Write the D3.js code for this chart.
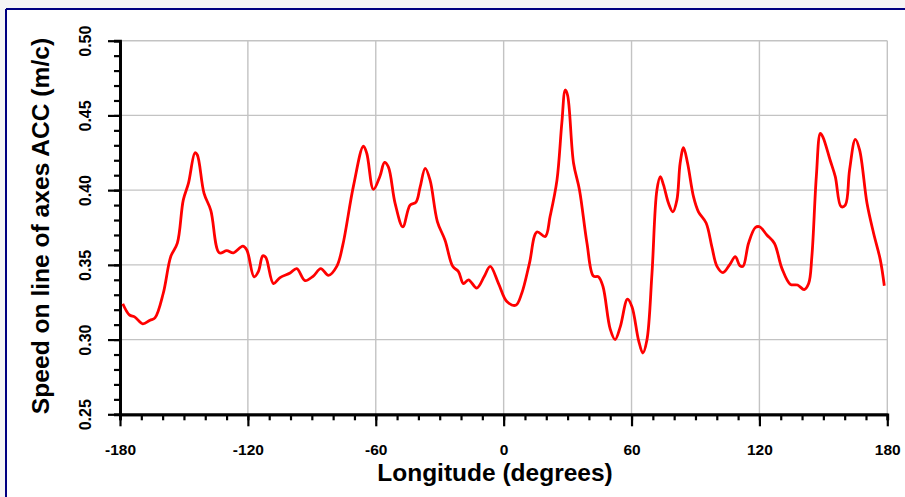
<!DOCTYPE html>
<html>
<head>
<meta charset="utf-8">
<script src="https://cdn.jsdelivr.net/npm/d3@7"></script>
<style>
  html, body { margin: 0; padding: 0; background: #fff; }
  svg { display: block; }
  text { font-family: "Liberation Sans", Arial, sans-serif; font-weight: bold; fill: #000; }
</style>
</head>
<body>
<svg id="chart" width="905" height="497"></svg>
<script>
// Longitude (degrees) of each sample along the ACC
const longitude = [
  -178.7, -175.6, -173.0, -169.3, -165.9, -163.6, -159.7, -156.2, -153.1, -150.3,
  -147.9, -144.8, -143.7, -140.6, -137.4, -133.4, -129.9, -126.8, -122.4, -120.5,
  -117.1, -115.1, -113.0, -111.6, -108.0, -104.9, -100.2, -97.1, -93.2, -89.3,
  -85.8, -82.2, -78.3, -75.5, -70.5, -65.8, -64.2, -61.1, -58.0, -55.9,
  -54.1, -50.9, -47.3, -43.9, -41.1, -39.2, -36.8, -34.5, -31.1, -27.5,
  -23.9, -21.2, -18.9, -16.5, -12.6, -9.2, -6.3, -2.4, 1.5, 5.7,
  8.5, 12.1, 15.6, 19.5, 21.8, 25.0, 27.3, 28.9, 30.0, 32.8,
  35.6, 39.1, 42.1, 44.5, 46.6, 50.0, 52.3, 54.7, 58.1, 60.2,
  63.3, 65.3, 67.2, 69.6, 71.9, 73.5, 75.0, 77.4, 79.4, 81.3,
  82.8, 84.4, 86.3, 89.1, 91.4, 95.0, 97.7, 100.1, 102.9, 106.0,
  108.7, 110.8, 112.3, 114.9, 118.1, 120.1, 123.5, 127.0, 130.6, 134.5,
  137.9, 141.0, 143.1, 144.6, 146.7, 148.6, 149.8, 153.2, 155.6, 158.3,
  160.3, 162.3, 165.0, 167.0, 170.5, 173.6, 176.7, 178.6
];

// Speed on the line of axes of the ACC (m/c)
const speed = [
  0.3240, 0.3165, 0.3150, 0.3105, 0.3130, 0.3145, 0.3310, 0.3555, 0.3645, 0.3935,
  0.4045, 0.4250, 0.4235, 0.3980, 0.3865, 0.3580, 0.3595, 0.3580, 0.3625, 0.3600,
  0.3420, 0.3455, 0.3560, 0.3550, 0.3375, 0.3415, 0.3445, 0.3475, 0.3395, 0.3425,
  0.3475, 0.3430, 0.3490, 0.3630, 0.4025, 0.4295, 0.4245, 0.4005, 0.4095, 0.4185,
  0.4155, 0.3910, 0.3755, 0.3900, 0.3920, 0.4020, 0.4145, 0.4065, 0.3790, 0.3665,
  0.3490, 0.3455, 0.3375, 0.3400, 0.3345, 0.3420, 0.3490, 0.3375, 0.3255, 0.3230,
  0.3310, 0.3510, 0.3720, 0.3690, 0.3825, 0.4065, 0.4450, 0.4670, 0.4635, 0.4180,
  0.4000, 0.3645, 0.3425, 0.3420, 0.3355, 0.3070, 0.3000, 0.3085, 0.3270, 0.3220,
  0.2995, 0.2910, 0.2995, 0.3445, 0.4000, 0.4090, 0.4035, 0.3910, 0.3855, 0.3935,
  0.4180, 0.4285, 0.4180, 0.3955, 0.3855, 0.3780, 0.3620, 0.3490, 0.3448, 0.3500,
  0.3555, 0.3495, 0.3490, 0.3645, 0.3750, 0.3755, 0.3700, 0.3645, 0.3475, 0.3370,
  0.3365, 0.3335, 0.3375, 0.3555, 0.4090, 0.4380, 0.4355, 0.4200, 0.4090, 0.3890,
  0.3900, 0.4135, 0.4340, 0.4270, 0.3910, 0.3710, 0.3535, 0.3360
];

// Axis ticks
const xMajorTicks = [-180, -120, -60, 0, 60, 120, 180];
const xMinorTicks = d3.range(-180, 181, 10);
const yMajorTicks = [0.25, 0.30, 0.35, 0.40, 0.45, 0.50];
const yMinorTicks = d3.range(25, 51, 1).map(v => v / 100);
const yTickLabels = ["0.25", "0.30", "0.35", "0.40", "0.45", "0.50"];

const xTitle = "Longitude (degrees)";
const yTitle = "Speed on line of axes ACC (m/c)";

const svg = d3.select("#chart");
const W = 905, H = 497;
const plot = { left: 120, right: 887.3, top: 40.7, bottom: 414.3 };

const x = d3.scaleLinear().domain([-180, 180]).range([plot.left, plot.right]);
const y = d3.scaleLinear().domain([0.25, 0.50]).range([plot.bottom, plot.top]);

// Page background and frame
svg.append("rect").attr("width", W).attr("height", H).attr("fill", "#f5f5f5");
svg.append("rect").attr("x", 6).attr("y", 9).attr("width", W - 6).attr("height", H - 9).attr("fill", "#fff");
svg.append("line").attr("x1", 6).attr("x2", W).attr("y1", 9).attr("y2", 9)
  .attr("stroke", "#000080").attr("stroke-width", 2);
svg.append("line").attr("x1", 6).attr("x2", 6).attr("y1", 9).attr("y2", H)
  .attr("stroke", "#000080").attr("stroke-width", 2);

// Grid
const grid = svg.append("g").attr("stroke", "#c3c3c3").attr("stroke-width", 1.4);
grid.selectAll("line.v").data(xMajorTicks.slice(1)).join("line")
  .attr("x1", d => x(d)).attr("x2", d => x(d))
  .attr("y1", plot.top).attr("y2", plot.bottom);
grid.selectAll("line.h").data(yMajorTicks.slice(1)).join("line")
  .attr("x1", plot.left).attr("x2", plot.right)
  .attr("y1", d => y(d)).attr("y2", d => y(d));

// Minor ticks
const xMinor = svg.append("g").attr("transform", `translate(0,${plot.bottom})`)
  .call(d3.axisBottom(x).tickValues(xMinorTicks).tickSize(6).tickFormat(""));
const yMinor = svg.append("g").attr("transform", `translate(${plot.left},0)`)
  .call(d3.axisLeft(y).tickValues(yMinorTicks).tickSize(6).tickFormat(""));

// Major ticks with labels
const xAxis = svg.append("g").attr("transform", `translate(0,${plot.bottom})`)
  .call(d3.axisBottom(x).tickValues(xMajorTicks).tickSize(12).tickSizeOuter(0)
    .tickFormat(d => String(d)));
const yAxis = svg.append("g").attr("transform", `translate(${plot.left},0)`)
  .call(d3.axisLeft(y).tickValues(yMajorTicks).tickSize(12).tickSizeOuter(0)
    .tickFormat((d, i) => yTickLabels[i]));

[xMinor, yMinor, xAxis, yAxis].forEach(g => {
  g.select(".domain").attr("stroke", "#000").attr("stroke-width", 2.8);
  g.selectAll(".tick line").attr("stroke", "#000").attr("stroke-width", 2.2);
});

xAxis.selectAll(".tick text")
  .attr("y", 40.5).attr("dy", null)
  .attr("text-anchor", "middle")
  .style("font-size", "15.5px").style("font-family", "'Liberation Sans', Arial, sans-serif")
  .style("font-weight", "bold").attr("fill", "#000");

yAxis.selectAll(".tick text")
  .attr("x", null).attr("dy", null)
  .attr("text-anchor", "middle")
  .attr("transform", "translate(-29.5,0) rotate(-90)")
  .style("font-size", "16px").style("font-family", "'Liberation Sans', Arial, sans-serif")
  .style("font-weight", "bold").attr("fill", "#000");

// Axis titles
svg.append("text")
  .attr("x", 495).attr("y", 481)
  .attr("text-anchor", "middle")
  .style("font-size", "24.5px")
  .text(xTitle);

svg.append("text")
  .attr("transform", "translate(49,226) rotate(-90)")
  .attr("text-anchor", "middle")
  .style("font-size", "24.6px")
  .text(yTitle);

// Speed curve
const points = longitude.map((lon, i) => [lon, speed[i]]);
const line = d3.line()
  .x(d => x(d[0]))
  .y(d => y(d[1]))
  .curve(d3.curveCatmullRom.alpha(0.5));

svg.append("path")
  .datum(points)
  .attr("fill", "none")
  .attr("stroke", "#ff0000")
  .attr("stroke-width", 2.8)
  .attr("stroke-linejoin", "round")
  .attr("d", line);
</script>
</body>
</html>
